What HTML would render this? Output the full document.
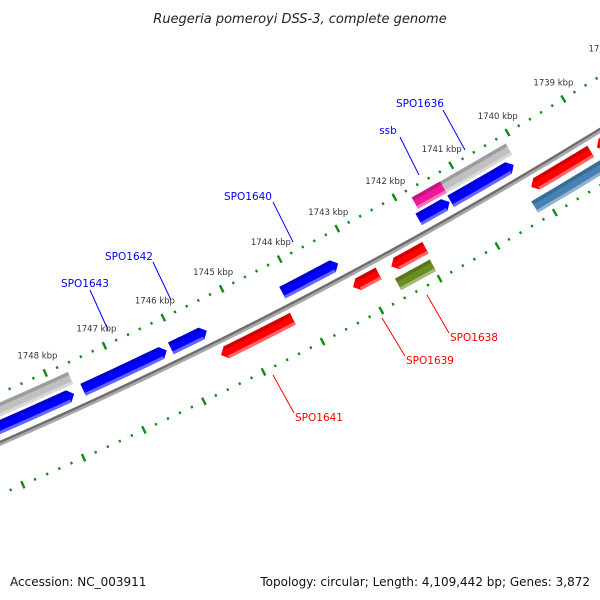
<!DOCTYPE html>
<html><head><meta charset="utf-8">
<style>
html,body{margin:0;padding:0;background:#fff;}
svg{display:block;font-family:"DejaVu Sans","Liberation Sans",sans-serif;}
</style></head>
<body>
<svg id="map" width="600" height="600" viewBox="0 0 600 600" xmlns="http://www.w3.org/2000/svg">
<rect width="600" height="600" fill="#fff"/>
<text x="300" y="23" text-anchor="middle" font-size="13" font-style="italic" fill="#222">Ruegeria pomeroyi DSS-3, complete genome</text>
<g id="ticks"></g>
<g id="backbone"></g>
<g id="features"></g>
<g font-size="10.5">
  <line x1="443" y1="110" x2="465" y2="150" stroke="#0000ff" stroke-width="1"/>
  <text x="420" y="107" text-anchor="middle" fill="#0000ff">SPO1636</text>
  <line x1="400" y1="137" x2="419" y2="175" stroke="#0000ff" stroke-width="1"/>
  <text x="388" y="134" text-anchor="middle" fill="#0000ff">ssb</text>
  <line x1="273" y1="202" x2="293" y2="242" stroke="#0000ff" stroke-width="1"/>
  <text x="248" y="200" text-anchor="middle" fill="#0000ff">SPO1640</text>
  <line x1="153" y1="262" x2="171" y2="300" stroke="#0000ff" stroke-width="1"/>
  <text x="129" y="260" text-anchor="middle" fill="#0000ff">SPO1642</text>
  <line x1="90" y1="290" x2="108" y2="330" stroke="#0000ff" stroke-width="1"/>
  <text x="85" y="287" text-anchor="middle" fill="#0000ff">SPO1643</text>
  <line x1="294" y1="413" x2="273" y2="375" stroke="#ff0000" stroke-width="1"/>
  <text x="295" y="421" fill="#ff0000">SPO1641</text>
  <line x1="405" y1="356" x2="382" y2="318" stroke="#ff0000" stroke-width="1"/>
  <text x="406" y="364" fill="#ff0000">SPO1639</text>
  <line x1="449" y1="333" x2="427" y2="295" stroke="#ff0000" stroke-width="1"/>
  <text x="450" y="341" fill="#ff0000">SPO1638</text>
</g>
<text x="10" y="586" font-size="12" fill="#111">Accession: NC_003911</text>
<text x="590" y="586" font-size="12" fill="#111" text-anchor="end">Topology: circular; Length: 4,109,442 bp; Genes: 3,872</text>
</svg>
<script>
// data arrays (kbp)
const majorTicks = [1738,1739,1740,1741,1742,1743,1744,1745,1746,1747,1748,1749,1750];
const tickLabels = ["1738 kbp","1739 kbp","1740 kbp","1741 kbp","1742 kbp","1743 kbp","1744 kbp","1745 kbp","1746 kbp","1747 kbp","1748 kbp","1749 kbp","1750 kbp"];
const featNames = ["SPO1636","ssb","gray-left","blue-1636","blue-ssb","SPO1640","SPO1642","SPO1643","blue-left","SPO1641","SPO1639","red-1637","red-right","red-far","SPO1638","steelblue-right"];
const featStart = [1740.11,1741.27,1747.68,1740.17,1741.30,1743.24,1745.49,1746.17,1747.73,1744.24,1742.77,1741.96,1739.06,1737.50,1741.99,1738.50];
const featEnd   = [1741.27,1741.77,1750.00,1741.28,1741.84,1744.20,1746.10,1747.58,1750.00,1745.46,1743.21,1742.55,1740.11,1738.95,1742.59,1740.22];
const featLane  = [2,2,2,1,1,1,1,1,1,-1,-1,-1,-1,-1,-2,-2];
const featColor = ["#c0c0c0","#f0189a","#c0c0c0","#0000ff","#0000ff","#0000ff","#0000ff","#0000ff","#0000ff","#ff0000","#ff0000","#ff0000","#ff0000","#ff0000","#6b8e23","#4682b4"];
const featArrow = [0,0,0,1,1,1,1,1,1,1,1,1,1,1,0,0];

const NS="http://www.w3.org/2000/svg";
const CX=-1908, CY=-3947, T0=59.37, DEG=0.7875;
const R_BACK=4787, R_OUT_TICK=4741, R_IN_TICK=4834, R_LABEL=4722;
const laneR = {"2":4756,"1":4772,"-1":4800,"-2":4819};
function ang(k){return (T0+(k-1740)*DEG)*Math.PI/180;}
function pt(k,r){const a=ang(k);return [CX+r*Math.cos(a),CY+r*Math.sin(a)];}
function mk(tag,attrs,parent){const e=document.createElementNS(NS,tag);for(const k in attrs)e.setAttribute(k,attrs[k]);parent.appendChild(e);return e;}
function arcPts(k1,k2,r,n){const p=[];for(let i=0;i<=n;i++){p.push(pt(k1+(k2-k1)*i/n,r));}return p;}
function poly(pts){return pts.map(p=>p[0].toFixed(2)+","+p[1].toFixed(2)).join(" ");}

// ticks
const tg=document.getElementById('ticks');
for(let k=1737.6;k<=1750.01;k+=0.2){
  const kk=Math.round(k*10)/10;
  const major=Math.abs(kk-Math.round(kk))<0.01;
  [R_OUT_TICK,R_IN_TICK].forEach(function(R){
    const len=major?4:1.3;
    const a=pt(kk,R-len), b=pt(kk,R+len);
    const l=mk('line',{x1:a[0],y1:a[1],x2:b[0],y2:b[1],stroke:'#138a13','stroke-width':major?2.4:2.2},tg);
    
    
  });
}
majorTicks.forEach(function(k,i){
  const p=pt(k,R_LABEL);
  const t=mk('text',{x:p[0],y:p[1]+3,'text-anchor':'middle','font-size':'8.5',fill:'#333'},tg);
  t.textContent=tickLabels[i];
  
  
});

// backbone
const bg=document.getElementById('backbone');
function arcPath(k1,k2,r){const a=pt(k1,r),b=pt(k2,r);return "M"+a[0]+","+a[1]+" A"+r+","+r+" 0 0 1 "+b[0]+","+b[1];}
const b1=mk('path',{d:arcPath(1737,1751,R_BACK-1.2),stroke:'#6e6e6e','stroke-width':2.6,fill:'none'},bg);


const b2=mk('path',{d:arcPath(1737,1751,R_BACK+1.3),stroke:'#a8a8a8','stroke-width':2.4,fill:'none'},bg);



// features
const fg=document.getElementById('features');
function shade(hex,f){const n=parseInt(hex.slice(1),16);let r=n>>16,g=(n>>8)&255,b=n&255;
  if(f<0){r*=1+f;g*=1+f;b*=1+f;}else{r+= (255-r)*f;g+=(255-g)*f;b+=(255-b)*f;}
  return "rgb("+Math.round(r)+","+Math.round(g)+","+Math.round(b)+")";}
const HW=6.5, HEAD=0.09;
featNames.forEach(function(name,i){
  const k1=featStart[i], k2=featEnd[i], lane=featLane[i], col=featColor[i];
  const rc=laneR[String(lane)], rIn=rc-HW, rOut=rc+HW;
  const g=mk('g',{},fg);
  
  
  let pts, bodyA=k1, bodyB=k2;
  if(featArrow[i] && lane>0){
    bodyA=k1+HEAD;
    pts=arcPts(k2,bodyA,rIn,10).concat([pt(k1,rc)]).concat(arcPts(bodyA,k2,rOut,10));
  } else if(featArrow[i] && lane<0){
    bodyB=k2-HEAD;
    pts=arcPts(k1,bodyB,rIn,10).concat([pt(k2,rc)]).concat(arcPts(bodyB,k1,rOut,10));
  } else {
    pts=arcPts(k1,k2,rIn,10).concat(arcPts(k2,k1,rOut,10));
  }
  const m=mk('polygon',{points:poly(pts),fill:col},g);
  
  
  const top=arcPts(bodyA,bodyB,rIn,10).concat(arcPts(bodyB,bodyA,rIn+3.5,10));
  const d=mk('polygon',{points:poly(top),fill:shade(col,-0.18)},g);
  
  
  const bot=arcPts(bodyA,bodyB,rOut-3,10).concat(arcPts(bodyB,bodyA,rOut,10));
  const l=mk('polygon',{points:poly(bot),fill:shade(col,0.4)},g);
  
  
});
</script>
</body></html>
